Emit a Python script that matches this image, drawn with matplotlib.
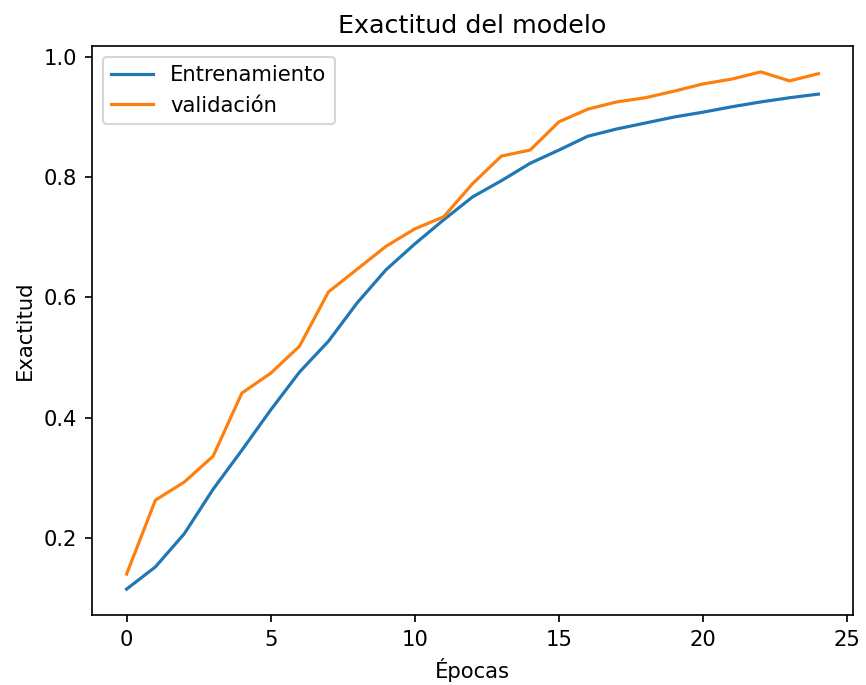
import matplotlib
matplotlib.use("Agg")
import matplotlib.pyplot as plt

# accuracy per epoch
epochs = list(range(25))
train_acc = [0.115, 0.152, 0.207, 0.281, 0.346, 0.413, 0.476, 0.527, 0.591, 0.646,
             0.689, 0.729, 0.767, 0.794, 0.823, 0.845, 0.868, 0.880, 0.890, 0.900,
             0.908, 0.917, 0.925, 0.932, 0.938]
val_acc = [0.140, 0.263, 0.293, 0.336, 0.441, 0.474, 0.519, 0.609, 0.647, 0.685,
           0.714, 0.734, 0.789, 0.835, 0.845, 0.892, 0.913, 0.925, 0.932, 0.943,
           0.955, 0.963, 0.975, 0.960, 0.972]

dpi = 152
fig, ax = plt.subplots(figsize=(866 / dpi, 685 / dpi), dpi=dpi)
fig.subplots_adjust(left=92 / 866, right=853 / 866, top=1 - 46 / 685, bottom=1 - 615 / 685)

ax.plot(epochs, train_acc, label="Entrenamiento")
ax.plot(epochs, val_acc, label="validación")
ax.set_title("Exactitud del modelo")
ax.set_xlabel("Épocas")
ax.set_ylabel("Exactitud")
ax.legend(loc="upper left")

fig.savefig("out.png", dpi=dpi)
